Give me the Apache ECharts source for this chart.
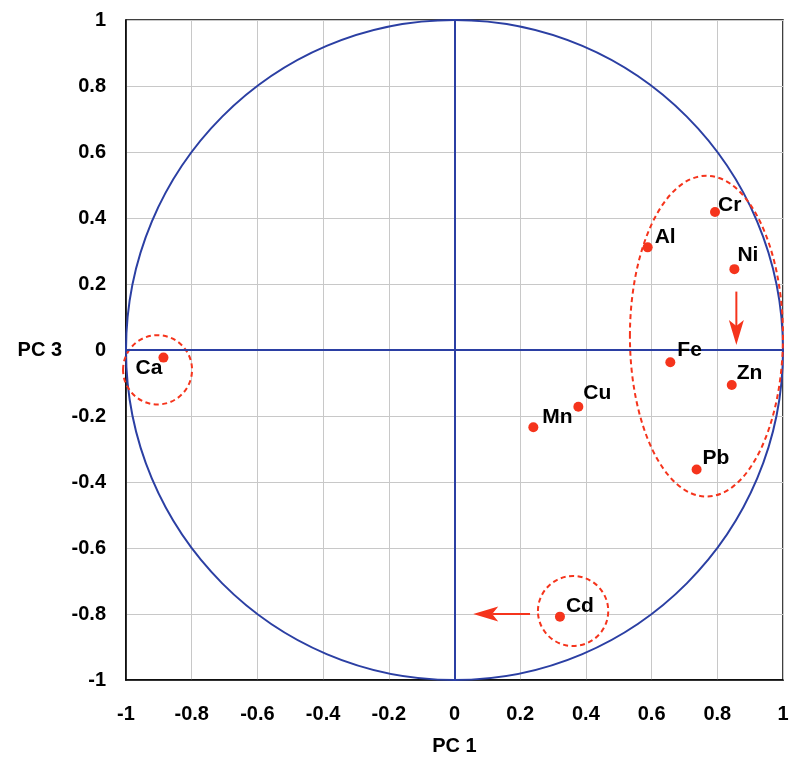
<!DOCTYPE html>
<html>
<head>
<meta charset="utf-8">
<script src="https://cdn.jsdelivr.net/npm/echarts@6/dist/echarts.min.js"></script>
<style>html,body{margin:0;padding:0;background:#fff}#c{width:792px;height:758px}</style>
</head>
<body>
<div id="c"></div>
<script>
// ---- data ----
const elements = ['Cr', 'Al', 'Ni', 'Fe', 'Zn', 'Pb', 'Cu', 'Mn', 'Cd', 'Ca'];
const pc1 = [0.793, 0.588, 0.852, 0.657, 0.844, 0.737, 0.377, 0.240, 0.321, -0.886];
const pc3 = [0.418, 0.311, 0.245, -0.037, -0.106, -0.362, -0.172, -0.234, -0.808, -0.023];
const tickValues = [-1, -0.8, -0.6, -0.4, -0.2, 0, 0.2, 0.4, 0.6, 0.8, 1];
// unit circle
const unitCircle = [0, 0, 1, 1];
// grouping ellipses: centre x, centre y, radius x, radius y
const groupCx = [0.767, 0.361, -0.904];
const groupCy = [0.042, -0.791, -0.060];
const groupRx = [0.233, 0.107, 0.105];
const groupRy = [0.486, 0.106, 0.105];
// arrows: start -> end
const arrowX1 = [0.858, 0.230];
const arrowY1 = [0.177, -0.800];
const arrowX2 = [0.858, 0.057];
const arrowY2 = [0.015, -0.800];

// ---- styles ----
const RED = '#f5341c';
const BLUE = '#2b3fa3';
const FONT = '"Liberation Sans", Arial, sans-serif';
const labelStyle = {
  Cr: {position: 'right', offset: [-2, -7]},
  Al: {position: 'right', offset: [2, -10]},
  Ni: {position: 'right', offset: [-2, -14]},
  Fe: {position: 'right', offset: [2, -12]},
  Zn: {position: 'right', offset: [0, -12]},
  Pb: {position: 'right', offset: [1, -11]},
  Cu: {position: 'right', offset: [0, -14]},
  Mn: {position: 'right', offset: [4, -10]},
  Cd: {position: 'right', offset: [1, -10]},
  Ca: {position: 'left', offset: [4, 11]}
};

const pointData = elements.map((n, i) => ({
  name: n,
  value: [pc1[i], pc3[i]],
  label: Object.assign({show: true, distance: 0, formatter: n}, labelStyle[n])
}));
const ellipseData = groupCx.map((c, i) => [c, groupCy[i], groupRx[i], groupRy[i]]);
const arrowData = arrowX1.map((x, i) => [x, arrowY1[i], arrowX2[i], arrowY2[i]]);

function renderEllipse(stroke, dash) {
  return function (params, api) {
    const c = api.coord([api.value(0), api.value(1)]);
    const s = api.size([api.value(2), api.value(3)]);
    return {
      type: 'ellipse',
      shape: {cx: c[0], cy: c[1], rx: s[0], ry: s[1]},
      style: {fill: 'none', stroke: stroke, lineWidth: 2, lineDash: dash}
    };
  };
}

function renderArrow(params, api) {
  const p1 = api.coord([api.value(0), api.value(1)]);
  const p2 = api.coord([api.value(2), api.value(3)]);
  const dx = p2[0] - p1[0], dy = p2[1] - p1[1];
  const len = Math.sqrt(dx * dx + dy * dy);
  const ux = dx / len, uy = dy / len;
  const px = -uy, py = ux;
  const headLen = 25, halfW = 7.5, notch = 6;
  const bx = p2[0] - ux * headLen, by = p2[1] - uy * headLen;
  const nx = p2[0] - ux * (headLen - notch), ny = p2[1] - uy * (headLen - notch);
  return {
    type: 'group',
    children: [
      {type: 'line', shape: {x1: p1[0], y1: p1[1], x2: nx, y2: ny},
        style: {stroke: RED, lineWidth: 2}},
      {type: 'polygon', shape: {points: [
        [p2[0], p2[1]],
        [bx + px * halfW, by + py * halfW],
        [nx, ny],
        [bx - px * halfW, by - py * halfW]
      ]}, style: {fill: RED}}
    ]
  };
}

const axisCommon = {
  type: 'value', min: -1, max: 1, interval: 0.2,
  axisLine: {show: true, onZero: false, lineStyle: {color: '#000', width: 1.5}},
  axisTick: {show: false},
  splitLine: {show: true, lineStyle: {color: '#c8c8c8', width: 1}},
  axisLabel: {
    color: '#000', fontFamily: FONT, fontWeight: 'bold', fontSize: 20,
    formatter: v => {
      const t = tickValues.find(tv => Math.abs(tv - v) < 1e-6);
      return String(t !== undefined ? t : Math.round(v * 10) / 10);
    }
  },
  nameLocation: 'middle',
  nameTextStyle: {color: '#000', fontFamily: FONT, fontWeight: 'bold', fontSize: 20}
};

const chart = echarts.init(document.getElementById('c'), null, {renderer: 'canvas'});
chart.setOption({
  animation: false,
  backgroundColor: '#fff',
  grid: {left: 126, right: 9, top: 20, bottom: 78, show: true, borderColor: '#000', borderWidth: 1.5,
    containLabel: false, outerBoundsMode: 'none'},
  xAxis: Object.assign({}, axisCommon, {
    position: 'bottom', name: 'PC 1', nameGap: 56,
    axisLabel: Object.assign({}, axisCommon.axisLabel, {margin: 24})
  }),
  yAxis: Object.assign({}, axisCommon, {
    position: 'left', name: 'PC 3', nameGap: 64, nameRotate: 0,
    axisLabel: Object.assign({}, axisCommon.axisLabel, {margin: 20})
  }),
  series: [
    {
      type: 'line', silent: true, data: [], symbol: 'none',
      markLine: {
        silent: true, symbol: 'none', label: {show: false},
        lineStyle: {color: BLUE, width: 2, type: 'solid'},
        data: [{xAxis: 0}, {yAxis: 0}]
      },
      z: 3
    },
    {
      type: 'custom', name: 'unit', renderItem: renderEllipse(BLUE, null),
      data: [unitCircle], clip: false, silent: true, z: 3,
      encode: {x: 0, y: 1}
    },
    {
      type: 'custom', name: 'groups', renderItem: renderEllipse(RED, [5, 3.5]),
      data: ellipseData, clip: false, silent: true, z: 4,
      encode: {x: 0, y: 1}
    },
    {
      type: 'custom', name: 'arrows', renderItem: renderArrow,
      data: arrowData, clip: false, silent: true, z: 4,
      encode: {x: [0, 2], y: [1, 3]}
    },
    {
      type: 'scatter', name: 'loadings', data: pointData,
      symbol: 'circle', symbolSize: 10,
      itemStyle: {color: RED, opacity: 1},
      label: {color: '#000', opacity: 1, fontFamily: FONT, fontWeight: 'bold', fontSize: 21},
      z: 5
    }
  ]
});
</script>
</body>
</html>
